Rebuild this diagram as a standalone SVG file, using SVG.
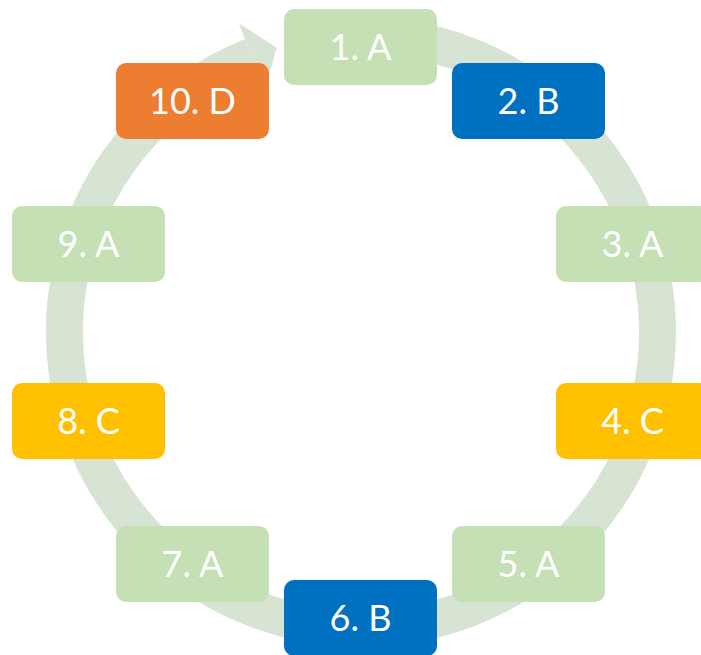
<svg xmlns="http://www.w3.org/2000/svg" width="701" height="655" viewBox="0 0 701 655">
  <style>
    .node rect { rx: 10px; ry: 10px; }
    .green rect { fill: #C5E0B4; }
    .blue rect { fill: #0070C0; }
    .yellow rect { fill: #FFC000; }
    .orange rect { fill: #ED7D31; }
    .node text { font-family: Lato, "Liberation Sans", sans-serif; font-size: 36px; fill: #FFFFFF; text-anchor: middle; }
    .ring { fill: none; stroke: #D8E4D3; stroke-width: 37; }
    .ringhead { fill: #D8E4D3; }
  </style>
  <rect width="701" height="655" fill="#FFFFFF"/>
  <!-- circular flow arrow: clockwise arc ending with a head at the top -->
  <g id="connectors">
    <path class="ring" d="M 371.35 35.68 A 296.5 296.5 0 1 1 251.85 56.32"/>
    <polygon class="ringhead" points="238.8,23.3 276.8,47.7 264.9,89.3"/>
  </g>
  <g id="n1" class="node green"><rect x="284" y="9" width="153" height="76"/><text x="360.5" y="60">1. A</text></g>
  <g id="n2" class="node blue"><rect x="452" y="63" width="153" height="76"/><text x="528.5" y="114">2. B</text></g>
  <g id="n3" class="node green"><rect x="556" y="206" width="153" height="76"/><text x="632.5" y="257">3. A</text></g>
  <g id="n4" class="node yellow"><rect x="556" y="383" width="153" height="76"/><text x="632.5" y="434">4. C</text></g>
  <g id="n5" class="node green"><rect x="452" y="526" width="153" height="76"/><text x="528.5" y="577">5. A</text></g>
  <g id="n6" class="node blue"><rect x="284" y="580" width="153" height="76"/><text x="360.5" y="631">6. B</text></g>
  <g id="n7" class="node green"><rect x="116" y="526" width="153" height="76"/><text x="192.5" y="577">7. A</text></g>
  <g id="n8" class="node yellow"><rect x="12" y="383" width="153" height="76"/><text x="88.5" y="434">8. C</text></g>
  <g id="n9" class="node green"><rect x="12" y="206" width="153" height="76"/><text x="88.5" y="257">9. A</text></g>
  <g id="n10" class="node orange"><rect x="116" y="63" width="153" height="76"/><text x="192.5" y="114">10. D</text></g>
</svg>
